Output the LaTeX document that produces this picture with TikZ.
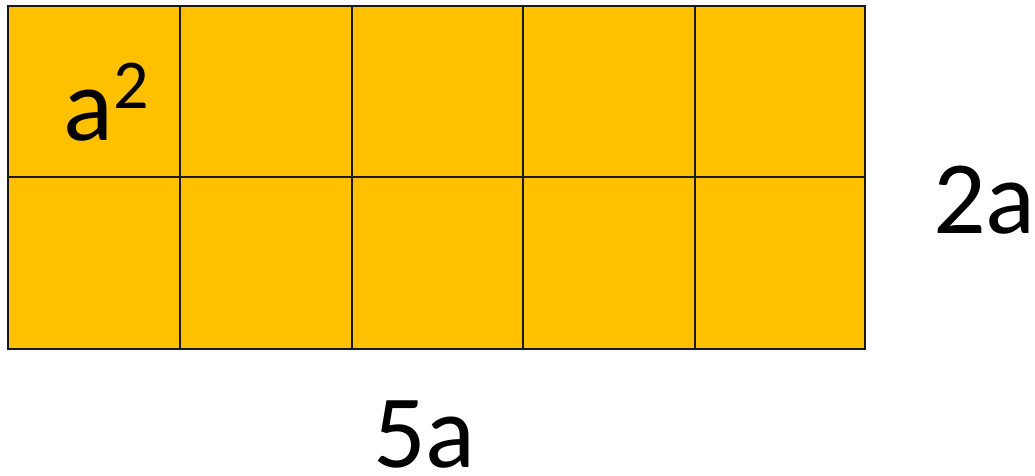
\documentclass[tikz,border=0pt]{standalone}
\usepackage{fontspec}
\setmainfont{Carlito}
\definecolor{tileyellow}{HTML}{FFC000}
\begin{document}
\begin{tikzpicture}[x=1pt,y=-1pt,
  tile/.style={fill=tileyellow,draw=black!90,line width=1.6pt},
  lbl/.style={anchor=base west,inner sep=0pt,text depth=0pt,font=\fontsize{104}{104}\selectfont}]
\useasboundingbox (0,0) rectangle (1035,476);
\def\xs{{8,180,352,523,695,865}}
\foreach \i in {0,...,4}{
  \pgfmathsetmacro{\xa}{\xs[\i]}
  \pgfmathsetmacro{\xb}{\xs[\i+1]}
  \draw[tile] (\xa,6) rectangle (\xb,177);
  \draw[tile] (\xa,177) rectangle (\xb,349);
}
\node[lbl] (sq) at (63,140) {a\raisebox{32pt}{\fontsize{70}{70}\selectfont 2}};
\node[lbl] (h) at (933,233) {2a};
\node[lbl] (w) at (373,467) {5a};
\end{tikzpicture}
\end{document}
